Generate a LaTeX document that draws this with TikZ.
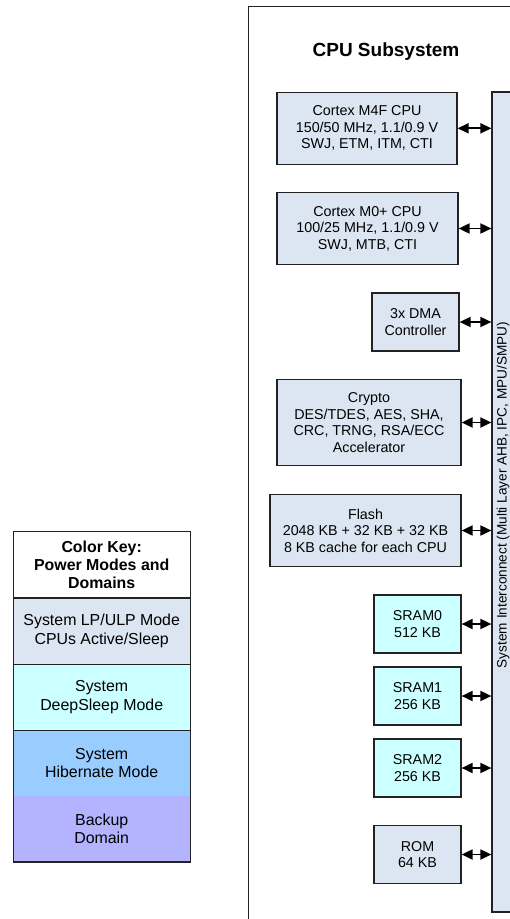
\documentclass[tikz,border=0pt]{standalone}
\usepackage{fontspec}
\setmainfont{Liberation Sans}
\usetikzlibrary{arrows.meta}

\definecolor{lpfill}{HTML}{DCE6F2}
\definecolor{dsfill}{HTML}{CCFFFF}
\definecolor{hibfill}{HTML}{99CCFF}
\definecolor{bkfill}{HTML}{B3B3FF}
\definecolor{edge}{HTML}{222222}

\tikzset{
  blk/.style={draw=edge, line width=1.2pt, inner sep=0pt, align=center,
    font=\fontsize{14.3pt}{16.5pt}\selectfont},
  lpblk/.style={blk, fill=lpfill},
  dsblk/.style={blk, fill=dsfill},
  link/.style={{Triangle[length=11pt,width=10pt]}-{Triangle[length=11pt,width=10pt]}, line width=1.8pt, black},
  keycell/.style={inner sep=0pt, align=center, minimum width=176.7pt,
    font=\fontsize{15.9pt}{18.2pt}\selectfont},
}

\begin{document}
\begin{tikzpicture}[x=1pt, y=-1pt]
\useasboundingbox (0,0) rectangle (510,919);
\clip (0,0) rectangle (510,919);

% CPU subsystem frame and title
\node[draw=edge, line width=1pt, minimum width=312pt, minimum height=954pt, inner sep=0pt] (cpusub) at (404,483) {};
\node[font=\fontsize{19pt}{22pt}\selectfont\bfseries] (title) at (386,52) {CPU Subsystem};

% system interconnect bar
\node[draw=edge, line width=1.2pt, fill=lpfill, minimum width=38pt, minimum height=820pt, inner sep=0pt] (bus) at (511,502) {};
\node[rotate=90, anchor=base, font=\fontsize{13.6pt}{16pt}\selectfont] (buslabel) at (506.5,495)
  {System Interconnect (Multi Layer AHB, IPC, MPU/SMPU)};

% masters and memories
\node[lpblk, minimum width=180pt, minimum height=72pt] (m4f) at (367,128.3)
  {Cortex M4F CPU\\150/50 MHz, 1.1/0.9 V\\SWJ, ETM, ITM, CTI};
\node[lpblk, minimum width=181pt, minimum height=71.5pt] (m0) at (367.5,228.5)
  {Cortex M0+ CPU\\100/25 MHz, 1.1/0.9 V\\SWJ, MTB, CTI};
\node[lpblk, minimum width=87pt, minimum height=58pt] (dma) at (415.5,322)
  {3x DMA\\Controller};
\node[lpblk, minimum width=184pt, minimum height=86.5pt] (crypto) at (369,422.5)
  {Crypto\\DES/TDES, AES, SHA,\\CRC, TRNG, RSA/ECC\\Accelerator};
\node[lpblk, minimum width=191pt, minimum height=72.5pt] (flash) at (365.5,530.5)
  {Flash\\2048 KB + 32 KB + 32 KB\\8 KB cache for each CPU};
\node[dsblk, minimum width=87pt, minimum height=58pt] (sram0) at (417.5,624)
  {SRAM0\\512 KB};
\node[dsblk, minimum width=87pt, minimum height=58pt] (sram1) at (417.5,696)
  {SRAM1\\256 KB};
\node[dsblk, minimum width=87pt, minimum height=58pt] (sram2) at (417.5,768)
  {SRAM2\\256 KB};
\node[lpblk, minimum width=87pt, minimum height=58pt] (rom) at (417.5,854.5)
  {ROM\\64 KB};

% bus connections
\foreach \n in {m4f,m0,dma,crypto,flash,sram0,sram1,sram2,rom}
  \draw[link] (\n.east) -- (bus.west |- \n.east);

% colour key
\node[keycell, fill=white, minimum height=66pt] (keyhead) at (101.7,564.7)
  {\bfseries Color Key:\\\bfseries Power Modes and\\\bfseries Domains};
\node[keycell, fill=lpfill, minimum height=66.3pt] (keylp) at (101.7,630.85)
  {System LP/ULP Mode\\CPUs Active/Sleep};
\node[keycell, fill=dsfill, minimum height=66pt] (keyds) at (101.7,697)
  {System\\DeepSleep Mode};
\node[keycell, fill=hibfill, minimum height=65.7pt] (keyhib) at (101.7,762.85)
  {System\\Hibernate Mode};
\node[keycell, fill=bkfill, minimum height=66pt] (keybk) at (101.7,828.7)
  {Backup\\Domain};
\draw[edge, line width=1.2pt] (keyhead.south west) -- (keyhead.south east);
\draw[edge, line width=1.2pt] (keylp.south west) -- (keylp.south east);
\draw[edge, line width=1.2pt] (keyds.south west) -- (keyds.south east);
\draw[edge, line width=1.2pt] (keyhead.north west) rectangle (keybk.south east);
\end{tikzpicture}
\end{document}
